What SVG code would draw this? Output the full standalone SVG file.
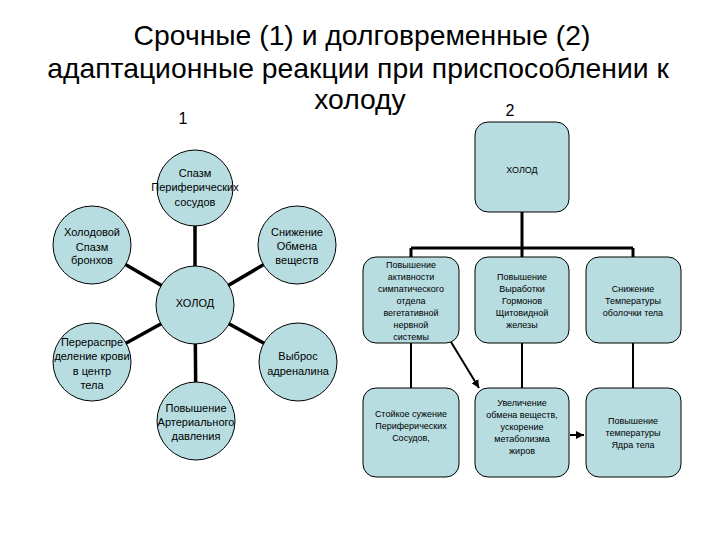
<svg xmlns="http://www.w3.org/2000/svg" width="720" height="540" viewBox="0 0 720 540">
<style>
text{font-family:"Liberation Sans",Arial,sans-serif;fill:#000;text-anchor:middle}
.title{font-size:28.3px}
.num{font-size:16px}
.c{font-size:11px}
.b{font-size:9px}
.node{fill:#b7dde0;stroke:#000;stroke-width:1}
.thick{stroke:#000;stroke-width:3.5;fill:none}
.tree{stroke:#000;stroke-width:3;fill:none}
.thin{stroke:#000;stroke-width:2;fill:none}
</style>
<defs>
<marker id="ah" viewBox="0 0 10 10" refX="10" refY="5" markerWidth="4" markerHeight="4" orient="auto" markerUnits="strokeWidth">
<path d="M0,0 L10,5 L0,10 z" fill="#000"/>
</marker>
</defs>
<rect width="720" height="540" fill="#fff"/>
<g id="title">
<text class="title" x="362" y="45">Срочные (1) и долговременные (2)</text>
<text class="title" x="358" y="78">адаптационные реакции при приспособлении к</text>
<text class="title" x="360" y="109">холоду</text>
<text class="num" x="183" y="124">1</text>
<text class="num" x="510" y="116">2</text>
</g>
<g id="connectors">
<line class="thick" x1="195" y1="305" x2="195" y2="188"/>
<line class="thick" x1="195" y1="305" x2="92" y2="245"/>
<line class="thick" x1="195" y1="305" x2="297" y2="245"/>
<line class="thick" x1="195" y1="305" x2="92" y2="362"/>
<line class="thick" x1="195" y1="305" x2="298" y2="362"/>
<line class="thick" x1="195" y1="305" x2="196" y2="421"/>
<path class="tree" d="M522,212 V248 M411,248 H633 M411,248 V258 M522,248 V258 M633,248 V258"/>
<path class="thin" d="M411,343 V389 M522,343 V389 M633,343 V389"/>
<line class="thin" x1="451" y1="342" x2="479" y2="388" marker-end="url(#ah)"/>
<line class="thin" x1="570" y1="435" x2="584" y2="435" marker-end="url(#ah)"/>
</g>
<g id="spasm-periph">
<circle class="node" cx="195" cy="188" r="38"/>
<text class="c" x="195" y="177">Спазм</text>
<text class="c" x="195" y="191">Периферических</text>
<text class="c" x="195" y="206">сосудов</text>
</g>
<g id="spasm-bronch">
<circle class="node" cx="92" cy="245" r="39"/>
<text class="c" x="92" y="236">Холодовой</text>
<text class="c" x="92" y="251">Спазм</text>
<text class="c" x="92" y="264">бронхов</text>
</g>
<g id="metab-down">
<circle class="node" cx="297" cy="245" r="39"/>
<text class="c" x="297" y="236">Снижение</text>
<text class="c" x="297" y="250">Обмена</text>
<text class="c" x="297" y="264">веществ</text>
</g>
<g id="cold-left">
<circle class="node" cx="195" cy="305" r="39"/>
<text class="c" x="195" y="307">ХОЛОД</text>
</g>
<g id="redistrib">
<circle class="node" cx="92" cy="362" r="39"/>
<text class="c" x="92" y="346">Перераспре</text>
<text class="c" x="92" y="360">деление крови</text>
<text class="c" x="92" y="375">в центр</text>
<text class="c" x="92" y="389">тела</text>
</g>
<g id="adrenalin">
<circle class="node" cx="298" cy="362" r="39"/>
<text class="c" x="298" y="360">Выброс</text>
<text class="c" x="298" y="375">адреналина</text>
</g>
<g id="pressure">
<circle class="node" cx="196" cy="421" r="39"/>
<text class="c" x="196" y="412">Повышение</text>
<text class="c" x="196" y="426">Артериального</text>
<text class="c" x="196" y="440">давления</text>
</g>
<g id="cold-right">
<rect class="node" x="475" y="122" width="94" height="90" rx="13"/>
<text class="b" x="522" y="173">ХОЛОД</text>
</g>
<g id="sympath">
<rect class="node" x="363" y="257" width="96" height="86" rx="13"/>
<text class="b" x="411" y="268">Повышение</text>
<text class="b" x="411" y="280">активности</text>
<text class="b" x="411" y="292">симпатического</text>
<text class="b" x="411" y="304">отдела</text>
<text class="b" x="411" y="316">вегетативной</text>
<text class="b" x="411" y="328">нервной</text>
<text class="b" x="411" y="340">системы</text>
</g>
<g id="thyroid">
<rect class="node" x="475" y="257" width="94" height="86" rx="13"/>
<text class="b" x="522" y="280">Повышение</text>
<text class="b" x="522" y="292">Выработки</text>
<text class="b" x="522" y="304">Гормонов</text>
<text class="b" x="522" y="316">Щитовидной</text>
<text class="b" x="522" y="328">железы</text>
</g>
<g id="shell-temp">
<rect class="node" x="586" y="257" width="95" height="86" rx="13"/>
<text class="b" x="633" y="292">Снижение</text>
<text class="b" x="633" y="304">Температуры</text>
<text class="b" x="633" y="316">оболочки тела</text>
</g>
<g id="vasoconstr">
<rect class="node" x="363" y="388" width="96" height="89" rx="13"/>
<text class="b" x="411" y="417">Стойкое сужение</text>
<text class="b" x="411" y="429">Периферических</text>
<text class="b" x="411" y="441">Сосудов,</text>
</g>
<g id="metab-up">
<rect class="node" x="475" y="388" width="94" height="89" rx="13"/>
<text class="b" x="522" y="406">Увеличение</text>
<text class="b" x="522" y="418">обмена веществ,</text>
<text class="b" x="522" y="430">ускорение</text>
<text class="b" x="522" y="442">метаболизма</text>
<text class="b" x="522" y="454">жиров</text>
</g>
<g id="core-temp">
<rect class="node" x="586" y="388" width="95" height="89" rx="13"/>
<text class="b" x="633" y="424">Повышение</text>
<text class="b" x="633" y="436">температуры</text>
<text class="b" x="633" y="448">Ядра тела</text>
</g>
</svg>
